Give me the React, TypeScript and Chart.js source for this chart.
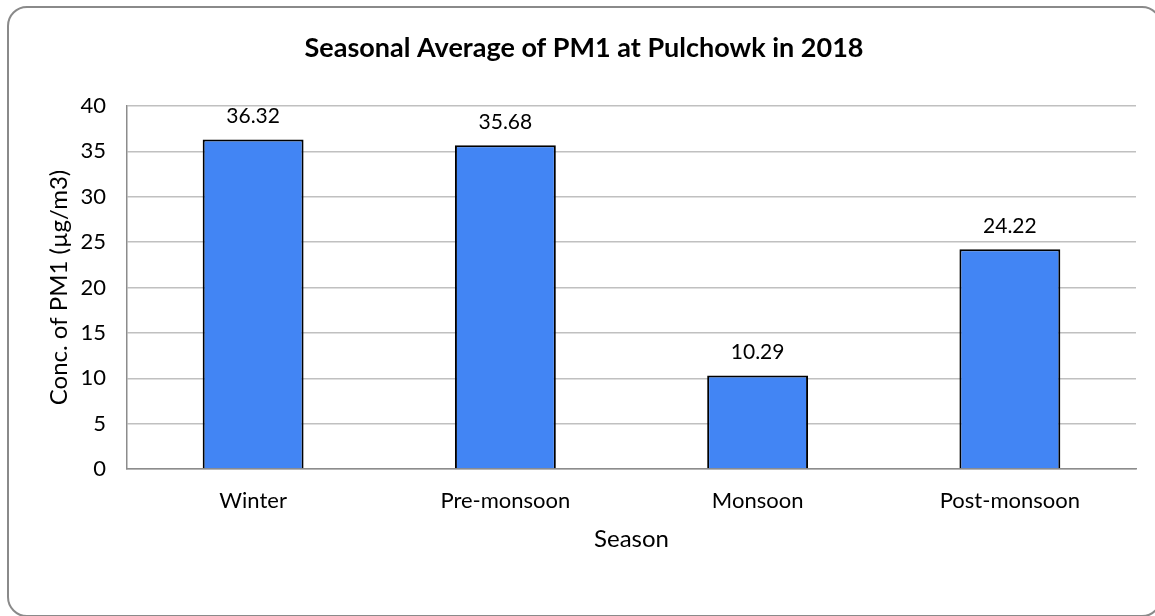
import { useEffect, useRef } from "react";
import { Chart, registerables } from "chart.js";

Chart.register(...registerables);

const seasons = ["Winter", "Pre-monsoon", "Monsoon", "Post-monsoon"];
const pm1Values = [36.32, 35.68, 10.29, 24.22];
const yMin = 0;
const yMax = 40;
const yStep = 5;

const chartTitle = "Seasonal Average of PM1 at Pulchowk in 2018";
const yTitle = "Conc. of PM1 (µg/m3)";
const xTitle = "Season";

const FONT = "Lato, 'Open Sans', sans-serif";

const dataLabels = {
  id: "dataLabels",
  afterDatasetsDraw(chart: any) {
    const ctx = chart.ctx;
    const meta = chart.getDatasetMeta(0);
    const ds = chart.data.datasets[0];
    ctx.save();
    ctx.font = `21px ${FONT}`;
    ctx.fillStyle = "#000";
    ctx.textAlign = "center";
    ctx.textBaseline = "middle";
    meta.data.forEach((el: any, i: number) => {
      ctx.fillText(Number(ds.data[i]).toFixed(2), el.x, el.y - 23);
    });
    ctx.restore();
  },
};

const titleDraw = {
  id: "titleDraw",
  afterDraw(chart: any) {
    const ctx = chart.ctx;
    ctx.save();
    ctx.font = `bold 27px ${FONT}`;
    ctx.fillStyle = "#000";
    ctx.textAlign = "center";
    ctx.textBaseline = "middle";
    ctx.fillText(chartTitle, 584, 48);
    ctx.restore();
  },
};

export default function App() {
  const ref = useRef<HTMLCanvasElement>(null);
  useEffect(() => {
    document.body.style.margin = "0";
    const chart = new Chart(ref.current!, {
      type: "bar",
      data: {
        labels: seasons,
        datasets: [
          {
            data: pm1Values,
            backgroundColor: "#4285f4",
            borderColor: "#000000",
            borderWidth: 2,
            barPercentage: 0.4,
            categoryPercentage: 1,
          },
        ],
      },
      options: {
        animation: false,
        responsive: false,
        layout: { padding: { left: 0, right: 19, top: 106, bottom: 0 } },
        plugins: {
          legend: { display: false },
          tooltip: { enabled: false },
          title: { display: false },
        },
        scales: {
          x: {
            grid: { display: false, drawTicks: false },
            border: { color: "#8c8c8c", width: 1.5 },
            ticks: { color: "#000", font: { family: FONT, size: 22 }, padding: 19 },
            title: {
              display: true,
              text: xTitle,
              color: "#000",
              font: { family: FONT, size: 24 },
              padding: { top: 0, bottom: 62 },
            },
            afterFit(scale: any) {
              scale.height = 147;
            },
          },
          y: {
            min: yMin,
            max: yMax,
            ticks: { stepSize: yStep, color: "#000", font: { family: FONT, size: 22 }, padding: 21 },
            grid: { color: "#c0c0c0", lineWidth: 1.5, drawTicks: false },
            border: { color: "#8c8c8c", width: 1.5 },
            title: {
              display: true,
              text: yTitle,
              color: "#000",
              font: { family: FONT, size: 24 },
              padding: { top: 45, bottom: 0 },
            },
            afterFit(scale: any) {
              scale.width = 127;
            },
          },
        },
      },
      plugins: [dataLabels, titleDraw],
    });
    return () => chart.destroy();
  }, []);

  return (
    <div style={{ position: "relative", width: 1155, height: 616, background: "#fff", overflow: "hidden" }}>
      <canvas ref={ref} width={1155} height={616} style={{ position: "absolute", left: 0, top: 0 }} />
      <div
        style={{
          position: "absolute",
          left: 7,
          top: 6,
          width: 1155,
          height: 611,
          border: "2px solid #8a8a8a",
          borderRadius: 20,
          boxSizing: "border-box",
          pointerEvents: "none",
        }}
      />
    </div>
  );
}
